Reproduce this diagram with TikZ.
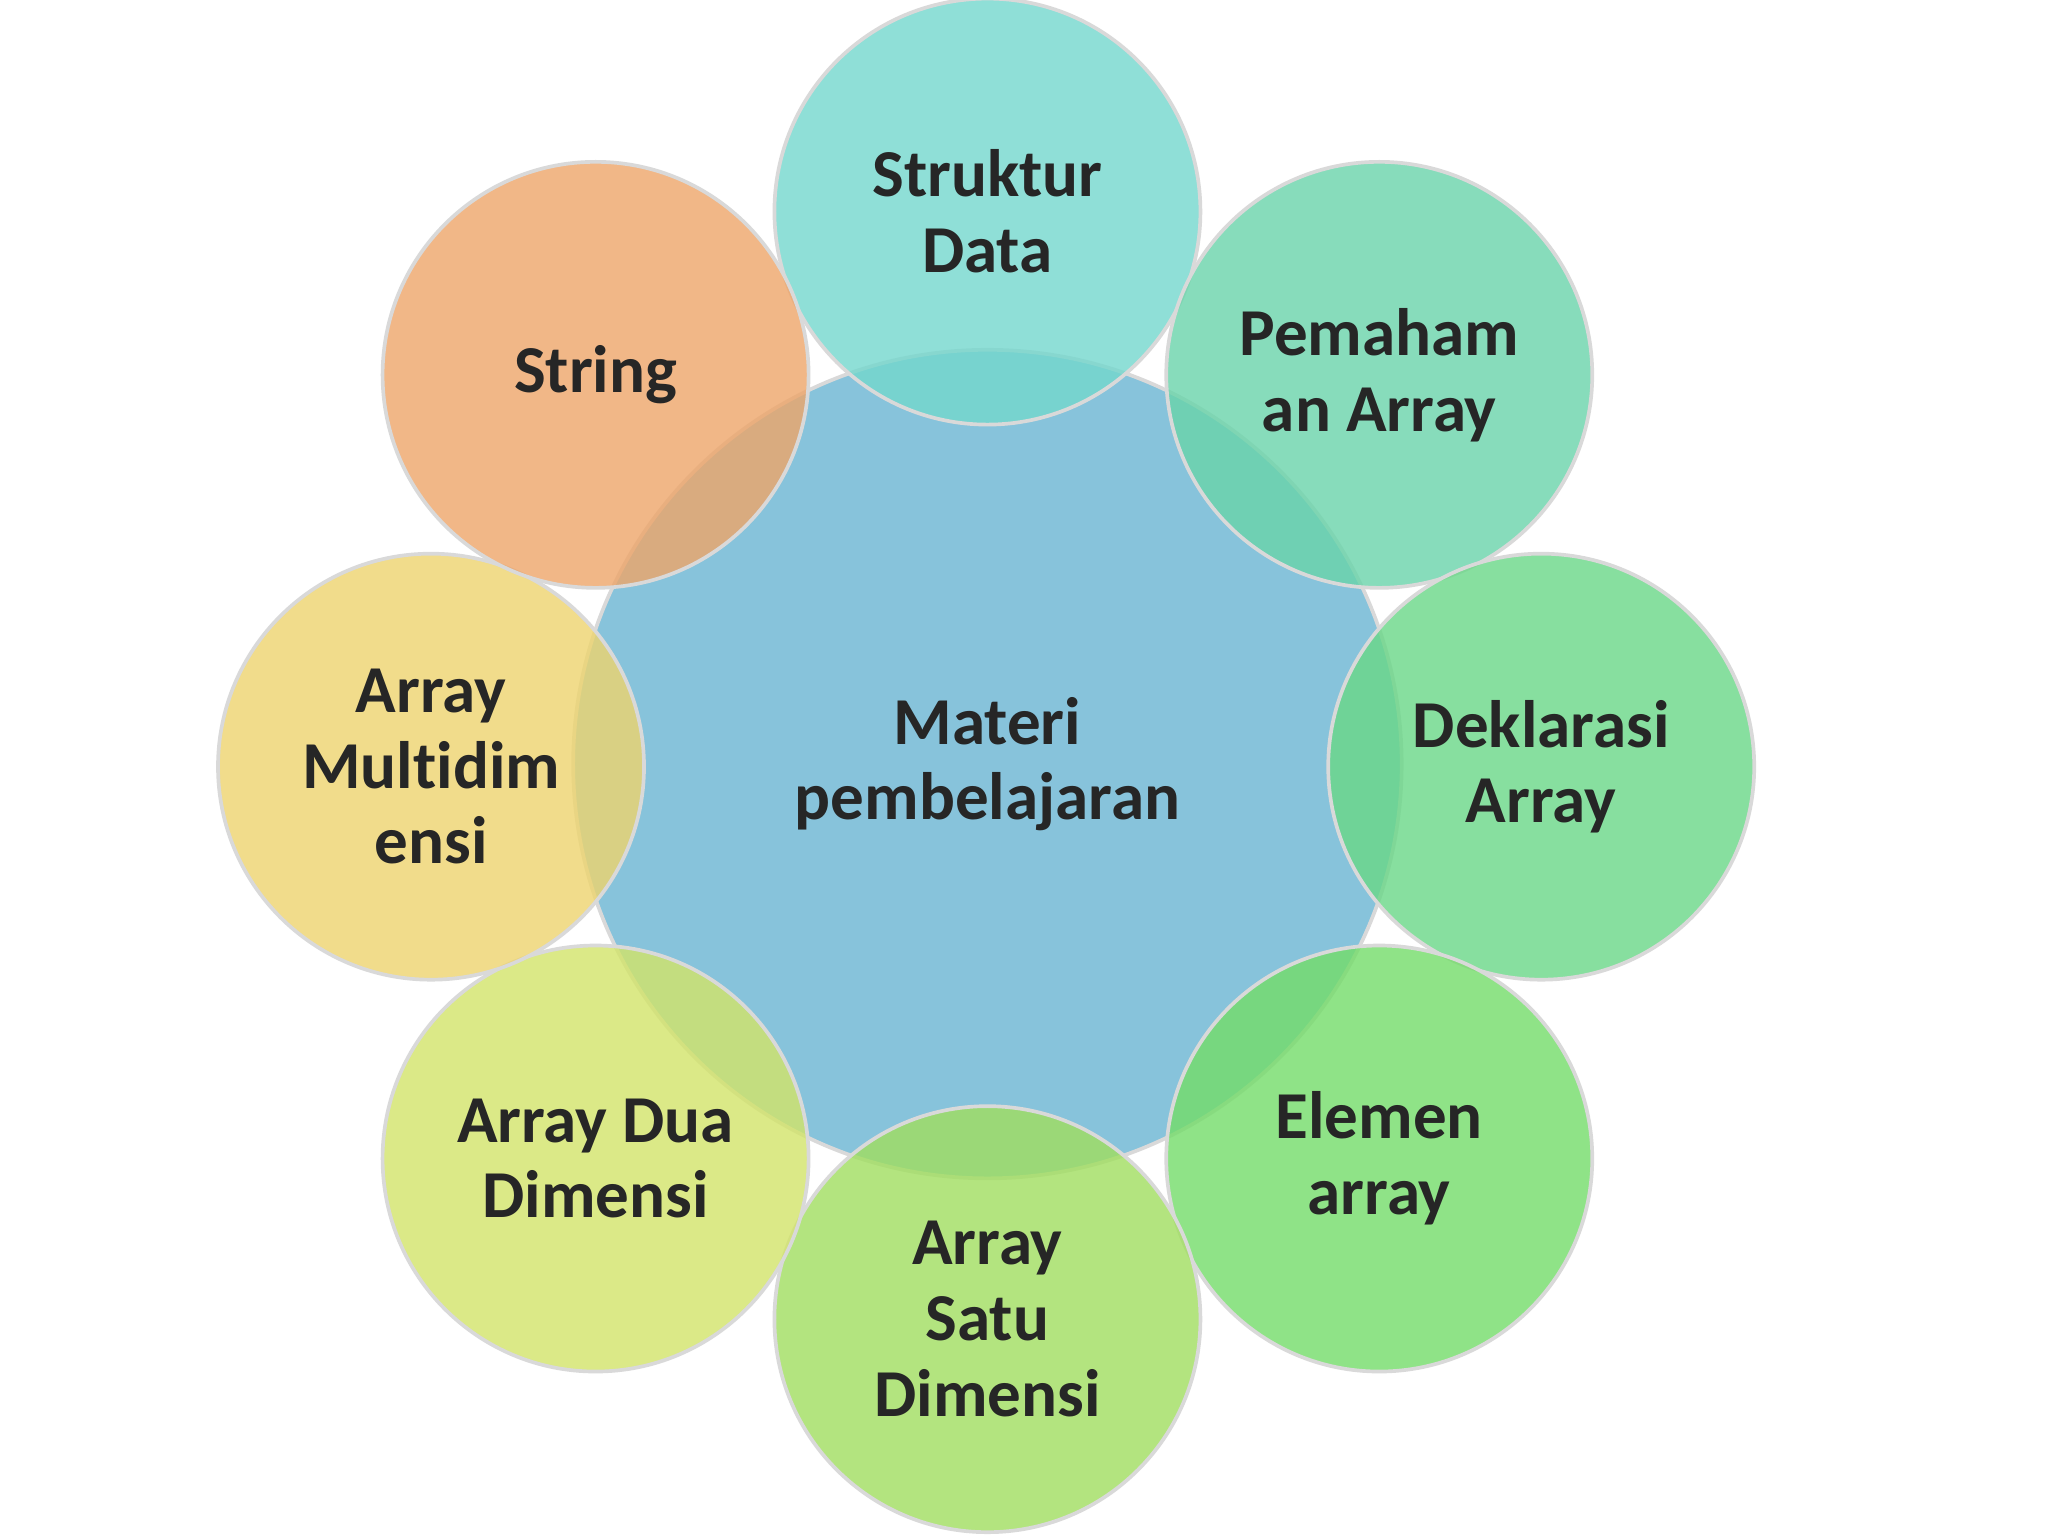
\documentclass[tikz,border=0pt]{standalone}
\usepackage{fontspec}
\setmainfont[Ligatures=NoCommon]{Carlito}
\definecolor{cC}{RGB}{105,180,210}
\definecolor{c1}{RGB}{115,215,205}
\definecolor{c2}{RGB}{105,212,170}
\definecolor{c3}{RGB}{105,215,135}
\definecolor{c4}{RGB}{115,220,105}
\definecolor{c5}{RGB}{160,222,95}
\definecolor{c6}{RGB}{210,228,105}
\definecolor{c7}{RGB}{238,212,110}
\definecolor{c8}{RGB}{238,165,105}
\tikzset{
 bub/.style={circle,minimum size=3.26cm,inner sep=0pt,fill opacity=0.8,text opacity=1,draw=black!15,line width=0.8pt,align=center,font=\bfseries\fontsize{14.6}{16.5}\selectfont,text=black!85},
 cen/.style={bub,minimum size=6.34cm,fill opacity=0.8}
}
\begin{document}
\begin{tikzpicture}[x=0.01cm,y=-0.01cm]
\useasboundingbox[fill=white] (0,0) rectangle (1568,1176);
\node[cen,fill=cC] (m) at (756,585) {Materi\\pembelajaran};
\node[bub,fill=c1] (a) at (756,162) {Struktur\\Data};
\node[bub,fill=c2] (b) at (1056,287) {Pemaham\\an Array};
\node[bub,fill=c3] (c) at (1180,587) {Deklarasi\\Array};
\node[bub,fill=c4] (d) at (1056,887) {Elemen\\array};
\node[bub,fill=c5] (e) at (756,1010) {Array\\Satu\\Dimensi};
\node[bub,fill=c6] (f) at (456,887) {Array Dua\\Dimensi};
\node[bub,fill=c7] (g) at (330,587) {Array\\Multidim\\ensi};
\node[bub,fill=c8] (h) at (456,287) {String};
\end{tikzpicture}
\end{document}
